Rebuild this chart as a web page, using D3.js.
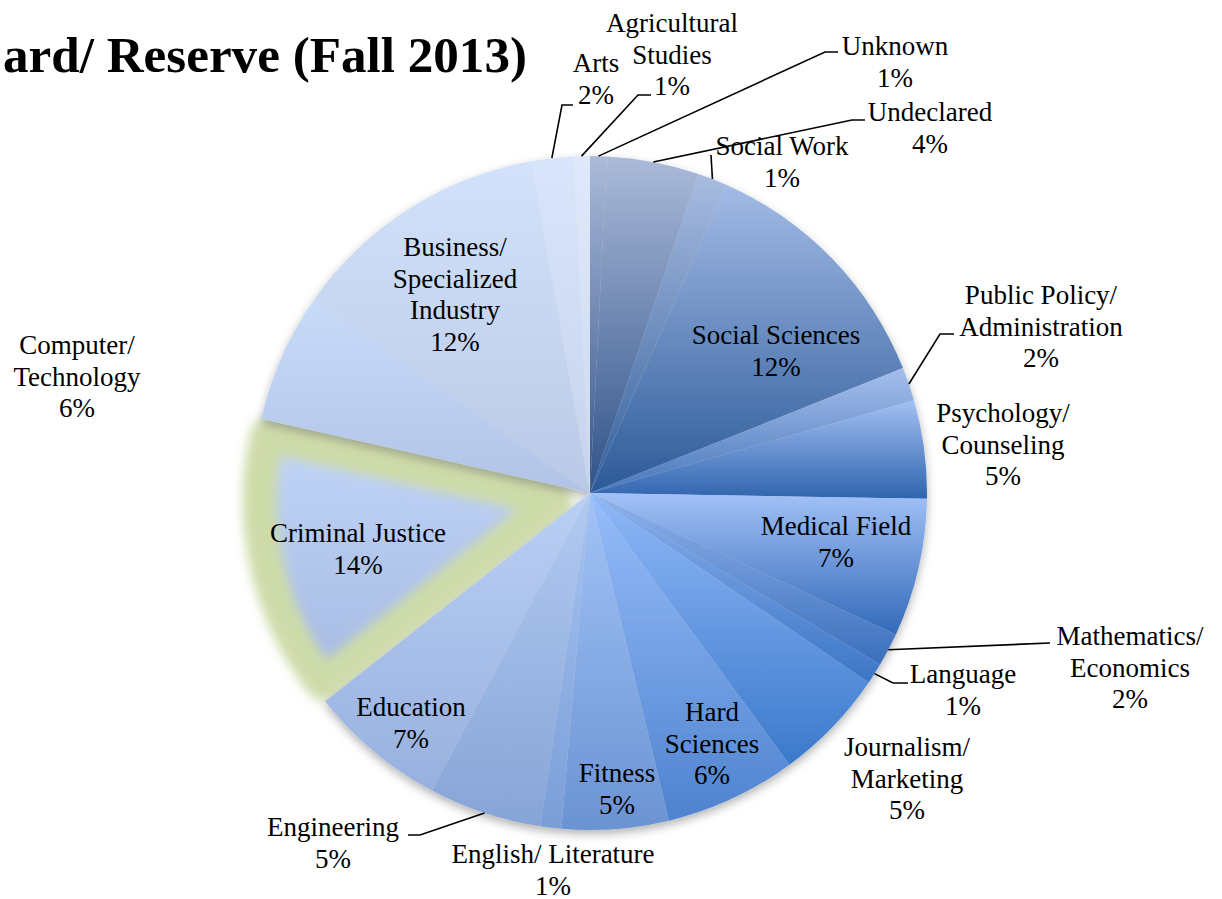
<!DOCTYPE html>
<html>
<head>
<meta charset="utf-8">
<script src="https://cdn.jsdelivr.net/npm/d3@7.9.0/dist/d3.min.js"></script>
<style>
  body { margin: 0; background: #fff; }
  svg { display: block; }
  text { font-family: "Liberation Serif", "DejaVu Serif", serif; fill: #000; }
</style>
</head>
<body>
<svg id="chart" width="1222" height="899"></svg>
<script>
// slices clockwise from 12 o'clock
const majors = ["Unknown", "Undeclared", "Social Work", "Social Sciences",
  "Public Policy/\nAdministration", "Psychology/\nCounseling", "Medical Field",
  "Mathematics/\nEconomics", "Language", "Journalism/\nMarketing", "Hard\nSciences",
  "Fitness", "English/ Literature", "Engineering", "Education", "Criminal Justice",
  "Computer/\nTechnology", "Business/\nSpecialized\nIndustry", "Arts", "Agricultural\nStudies"];
const shares = [0.8, 4.4, 1.4, 12.3, 1.6, 4.7, 6.6, 1.6, 1.0, 5.4, 6.3, 5.1, 1.0, 5.4, 6.6, 14.1, 6.2, 12.4, 2.0, 0.8];
const lightColors = ["#abbad9", "#abbad9", "#a9bce0", "#a3bbe6", "#a6bfec", "#a3c0f3", "#a2c1f7",
  "#8fb2ec", "#8ab0ee", "#8fb8f8", "#97bdfa", "#a2c3f6", "#a8c4f2", "#b2cbf2", "#bad0f5",
  "#c1d5f8", "#c9dbf9", "#d3e2fa", "#d9e5fb", "#e0e9fb"];
const darkColors = ["#33548a", "#2f5288", "#33609c", "#2c5a98", "#4877bb", "#2f64ae", "#3369b8",
  "#3b6fbc", "#3c76c6", "#3b79cb", "#4e83cf", "#6b93d3", "#7a9ed8", "#86a4d6", "#97b0de",
  "#a6bae3", "#b1c4e7", "#b9c9e6", "#c6d3ec", "#cdd8ee"];
// the title is cut at the left edge of the reference picture
const titleText = "ard/ Reserve (Fall 2013)";
const exploded = "Criminal Justice";

// label placement: centre x, first baseline y, optional leader points after the rim point
const labelLayout = [
  { x: 895, y: 55, leader: [[825, 52], [838, 52]] },
  { x: 930, y: 121, leader: [[852, 120], [865, 120]] },
  { x: 782, y: 155, leader: [[711, 155]] },
  { x: 776, y: 344 },
  { x: 1041, y: 304, leader: [[940, 334], [954, 334]] },
  { x: 1003, y: 422 },
  { x: 836, y: 535 },
  { x: 1130, y: 645, leader: [[1050, 643]] },
  { x: 963, y: 683, leader: [[893, 683], [908, 683]] },
  { x: 907, y: 756 },
  { x: 712, y: 721 },
  { x: 617, y: 782 },
  { x: 553, y: 863 },
  { x: 333, y: 836, leader: [[420, 835], [408, 835]] },
  { x: 411, y: 716 },
  { x: 358, y: 542 },
  { x: 77, y: 354 },
  { x: 455, y: 256 },
  { x: 596, y: 72, leader: [[562, 105], [573, 105]] },
  { x: 672, y: 32, leader: [[638, 95], [651, 95]] }
];

const cx = 590, cy = 493, radius = 337;
const lineH = 31.5;

const total = d3.sum(shares);
const data = majors.map((m, i) => ({ name: m, share: shares[i], idx: i }));
const pie = d3.pie().sort(null).value(d => d.share);
const arcs = pie(data);
const arc = d3.arc().innerRadius(0).outerRadius(radius);

const svg = d3.select("#chart");
const defs = svg.append("defs");

arcs.forEach((a, i) => {
  const g = defs.append("linearGradient")
    .attr("id", "grad" + i)
    .attr("x1", 0).attr("y1", 0).attr("x2", 0).attr("y2", 1);
  g.append("stop").attr("offset", "0%").attr("stop-color", lightColors[i]);
  g.append("stop").attr("offset", "100%").attr("stop-color", darkColors[i]);
});

const shadow = defs.append("filter").attr("id", "shadow")
  .attr("x", "-10%").attr("y", "-10%").attr("width", "120%").attr("height", "130%");
shadow.append("feDropShadow").attr("dx", 0).attr("dy", 4).attr("stdDeviation", 5)
  .attr("flood-color", "#000").attr("flood-opacity", 0.3);

const glow = defs.append("filter").attr("id", "glow")
  .attr("x", "-20%").attr("y", "-20%").attr("width", "140%").attr("height", "140%");
glow.append("feGaussianBlur").attr("stdDeviation", 5.5);

// exploded slice with green glow, drawn first so neighbours sit on top
const cjArc = arcs.find(a => a.data.name === exploded);
const mid = (cjArc.startAngle + cjArc.endAngle) / 2;
const push = 35;
const cjShape = d3.arc().innerRadius(0).outerRadius(296);
const cjG = svg.append("g")
  .attr("transform", `translate(${cx + push * Math.sin(mid)},${cy - push * Math.cos(mid)})`);
cjG.append("path")
  .attr("d", cjShape(cjArc))
  .attr("fill", `url(#grad${cjArc.index})`);
cjG.append("path")
  .attr("d", cjShape(cjArc))
  .attr("fill", "none")
  .attr("stroke", "#cddba9")
  .attr("stroke-width", 34)
  .attr("stroke-linejoin", "round")
  .attr("filter", "url(#glow)");

const pieG = svg.append("g")
  .attr("transform", `translate(${cx},${cy})`)
  .attr("filter", "url(#shadow)");
pieG.selectAll("path")
  .data(arcs.filter(a => a.data.name !== exploded))
  .join("path")
  .attr("d", arc)
  .attr("fill", d => `url(#grad${d.index})`);

// leader lines
const rimPoint = a => {
  const m = (a.startAngle + a.endAngle) / 2;
  return [cx + radius * Math.sin(m), cy - radius * Math.cos(m)];
};
arcs.forEach((a, i) => {
  const lay = labelLayout[i];
  if (!lay.leader) return;
  const pts = [rimPoint(a), ...lay.leader];
  svg.append("path")
    .attr("d", d3.line()(pts))
    .attr("fill", "none")
    .attr("stroke", "#000")
    .attr("stroke-width", 1.6);
});

// data labels
arcs.forEach((a, i) => {
  const lay = labelLayout[i];
  const lines = a.data.name.split("\n").concat(Math.round(a.data.share / total * 100) + "%");
  const t = svg.append("text")
    .attr("text-anchor", "middle")
    .attr("font-size", 27);
  lines.forEach((ln, k) => {
    t.append("tspan").attr("x", lay.x).attr("y", lay.y + k * lineH).text(ln);
  });
});

svg.append("text")
  .attr("x", 3).attr("y", 72)
  .attr("font-size", 50)
  .attr("font-weight", "bold")
  .attr("textLength", 524)
  .attr("lengthAdjust", "spacingAndGlyphs")
  .text(titleText);
</script>
</body>
</html>
